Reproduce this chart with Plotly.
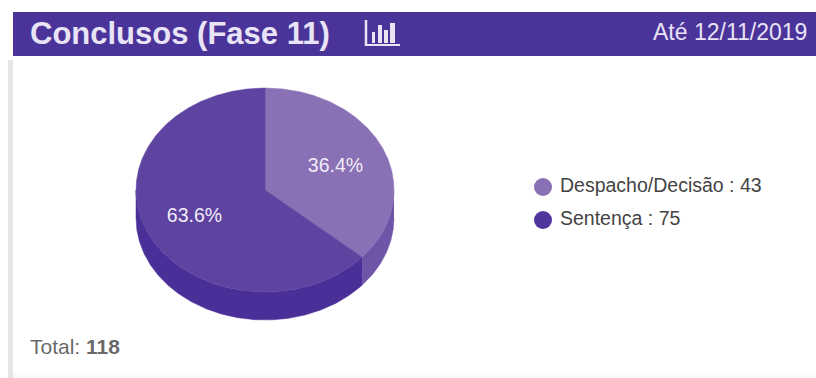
import numpy as np
import plotly.graph_objects as go

# Chart data
categories = ["Despacho/Decisão", "Sentença"]
values = [43, 75]
title_text = "Conclusos (Fase 11)"
date_text = "Até 12/11/2019"

# Palette
top_colors = ["#8a70b4", "#5f43a1"]
wall_colors = ["#6f55a8", "#4b2f98"]
header_color = "#4b3499"
header_text = "#e9e3f6"

# Pie geometry, in the pixel-based axis units
CX, CY, RX, RY, DEPTH = 265, 190, 129, 102, 28


def rim(a0, a1, dy=0):
    t = np.radians(np.linspace(a0, a1, max(int(abs(a1 - a0)) * 2, 2)))
    return CX + RX * np.sin(t), CY + dy - RY * np.cos(t)


total = sum(values)
edges = np.concatenate([[0], np.cumsum(values) / total * 360])

fig = go.Figure()

# Side wall: only the front half of the disc (90 to 270 degrees) is visible
for i in range(len(values)):
    a0, a1 = max(edges[i], 90), min(edges[i + 1], 270)
    xt, yt = rim(a0, a1)
    xb, yb = rim(a1, a0, DEPTH)
    fig.add_trace(go.Scatter(
        x=np.concatenate([xt, xb]), y=np.concatenate([yt, yb]),
        mode="lines", fill="toself", fillcolor=wall_colors[i],
        line=dict(color=wall_colors[i], width=0.5), hoverinfo="skip", showlegend=False,
    ))

# Top face of each slice
for i in range(len(values)):
    xs, ys = rim(edges[i], edges[i + 1])
    fig.add_trace(go.Scatter(
        x=np.concatenate([[CX], xs, [CX]]), y=np.concatenate([[CY], ys, [CY]]),
        mode="lines", fill="toself", fillcolor=top_colors[i],
        line=dict(color=top_colors[i], width=0.5), hoverinfo="skip", showlegend=False,
    ))

# Percentage labels placed along each slice's mid angle
mids = np.radians((edges[:-1] + edges[1:]) / 2)
fig.add_trace(go.Scatter(
    x=CX + 0.6 * RX * np.sin(mids), y=CY + 2 - 0.6 * RY * np.cos(mids),
    mode="text", text=[f"{v / total * 100:.1f}%" for v in values],
    textfont=dict(family="Liberation Sans", size=19.5, color="#f1edf8"),
    hoverinfo="skip", showlegend=False,
))

# Legend rows: swatches, then their labels
legend_y = [187 + 33 * i for i in range(len(values))]
fig.add_trace(go.Scatter(
    x=[543] * len(values), y=legend_y,
    mode="markers",
    marker=dict(size=18, color=["#8a70b4", "#4f359c"]),
    hoverinfo="skip", showlegend=False,
))
fig.add_trace(go.Scatter(
    x=[560] * len(values), y=legend_y,
    mode="text",
    text=[f"{c} : {v}" for c, v in zip(categories, values)],
    textposition="middle right",
    textfont=dict(family="Liberation Sans", size=19.5, color="#444444"),
    hoverinfo="skip", showlegend=False,
))

shapes = [
    # Header band, card's left edge and bottom edge
    dict(type="rect", x0=13, x1=816, y0=12, y1=56, fillcolor=header_color, line_width=0, layer="below"),
    dict(type="rect", x0=8, x1=13, y0=60, y1=378, fillcolor="#e6e6e6", line_width=0, layer="below"),
    dict(type="rect", x0=13, x1=816, y0=373, y1=378, fillcolor="#fafafa", line_width=0, layer="below"),
    # Bar-chart icon in the header
    dict(type="line", x0=366, x1=366, y0=20, y1=46, line=dict(color=header_text, width=2.5)),
    dict(type="line", x0=365, x1=400, y0=45, y1=45, line=dict(color=header_text, width=2)),
]
for x0, x1, top in [(372, 375, 32), (378, 382, 25), (384, 388, 30), (390, 395, 23)]:
    shapes.append(dict(type="rect", x0=x0, x1=x1, y0=top, y1=43,
                       fillcolor=header_text, line_width=0))

annotations = [
    dict(x=28, y=33, text=f"<b>{title_text}</b>", xanchor="left", yanchor="middle", showarrow=False,
         font=dict(family="Liberation Sans", size=31, color=header_text)),
    dict(x=809, y=32, text=date_text, xanchor="right", yanchor="middle", showarrow=False,
         font=dict(family="Liberation Sans", size=23, color=header_text)),
    dict(x=28, y=346, text=f"Total: <b>{total}</b>", xanchor="left", yanchor="middle", showarrow=False,
         font=dict(family="Liberation Sans", size=21, color="#6a6a6a")),
]

fig.update_layout(
    width=816, height=378, margin=dict(l=0, r=0, t=0, b=0),
    paper_bgcolor="white", plot_bgcolor="white",
    xaxis=dict(range=[0, 816], visible=False, fixedrange=True),
    yaxis=dict(range=[378, 0], visible=False, fixedrange=True),
    shapes=shapes, annotations=annotations,
)

fig.write_html("out.html")
